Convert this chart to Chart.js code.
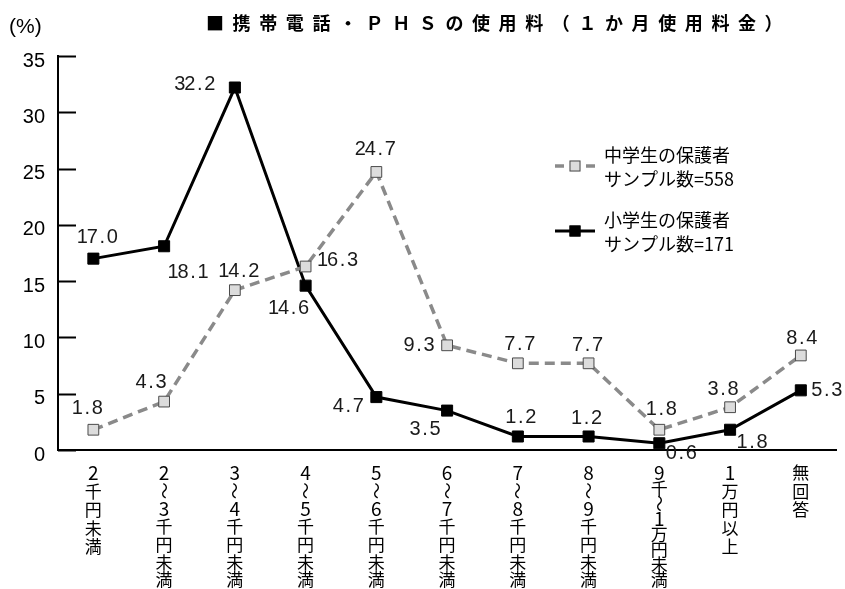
<!DOCTYPE html>
<html>
<head>
<meta charset="utf-8">
<script src="https://cdn.jsdelivr.net/npm/chart.js@4/dist/chart.umd.min.js"></script>
<style>
  html, body { margin: 0; padding: 0; background: #fff; }
  #wrap { width: 845px; height: 589px; }
</style>
</head>
<body>
<div id="wrap"><canvas id="c" width="845" height="589"></canvas></div>
<script>
// Monthly mobile phone / PHS charges, share of respondents (%)
const categories = [
  '2千円未満', '2～3千円未満', '3～4千円未満', '4～5千円未満', '5～6千円未満',
  '6～7千円未満', '7～8千円未満', '8～9千円未満', '9千～1万円未満', '1万円以上', '無回答'
];
const juniorHighParents = [1.8, 4.3, 14.2, 16.3, 24.7, 9.3, 7.7, 7.7, 1.8, 3.8, 8.4];
const elementaryParents = [17.0, 18.1, 32.2, 14.6, 4.7, 3.5, 1.2, 1.2, 0.6, 1.8, 5.3];
const juniorHighLegend = ['中学生の保護者', 'サンプル数=558'];
const elementaryLegend = ['小学生の保護者', 'サンプル数=171'];
const yMin = 0, yMax = 35, yStep = 5;
const chartTitle = '■携帯電話・ＰＨＳの使用料（１か月使用料金）';
const unitLabel = '(%)';

// Where each value label sits relative to its point (dx, dy)
const juniorLabelShift = [[-6,-21],[-13,-19],[4,-19],[32,-6],[-1,-22],[-28,0],[2,-19],[-1,-18],[2,-20],[-7,-18],[1,-17]];
const elementaryLabelShift = [[4,-21],[24,26],[-40,-3],[-17,23],[-28,9],[-22,19],[3,-19],[-2,-18],[22,10],[22,13],[26,0]];

const NUM_FONT = "'Liberation Sans Narrow', 'Liberation Sans', sans-serif";
const JP_FONT = "'Noto Sans CJK JP', sans-serif";

// Value labels: each glyph in a fixed-width cell, like a half-width Gothic face
const valueLabels = {
  id: 'valueLabels',
  afterDatasetsDraw(chart) {
    const ctx = chart.ctx;
    const shifts = [juniorLabelShift, elementaryLabelShift];
    ctx.save();
    ctx.fillStyle = '#1a1a1a';
    ctx.font = '20px ' + NUM_FONT;
    ctx.textAlign = 'center';
    ctx.textBaseline = 'middle';
    chart.data.datasets.forEach((ds, di) => {
      const meta = chart.getDatasetMeta(di);
      meta.data.forEach((pt, i) => {
        const txt = ds.data[i].toFixed(1);
        const [dx, dy] = shifts[di][i];
        const cell = 10;
        const x0 = pt.x + dx - (txt.length * cell) / 2 + cell / 2;
        for (let k = 0; k < txt.length; k++) {
          ctx.fillText(txt[k], x0 + k * cell, pt.y + dy);
        }
      });
    });
    ctx.restore();
  }
};

// Vertical category labels, one glyph per row; the wave dash is turned upright
const verticalCategoryLabels = {
  id: 'verticalCategoryLabels',
  afterDraw(chart) {
    const ctx = chart.ctx;
    const xs = chart.scales.x;
    const top = chart.chartArea.bottom + 23;
    const lastRow = 580;
    ctx.save();
    ctx.fillStyle = '#000';
    ctx.font = '17px ' + JP_FONT;
    ctx.textAlign = 'center';
    ctx.textBaseline = 'middle';
    categories.forEach((lab, i) => {
      const chars = Array.from(lab);
      const step = chars.length > 1 ? Math.min(18.5, (lastRow - top) / (chars.length - 1)) : 0;
      const x = xs.getPixelForValue(i);
      chars.forEach((ch, k) => {
        const y = top + k * step;
        if (ch === '～') {
          ctx.save();
          ctx.translate(x, y);
          ctx.rotate(Math.PI / 2);
          ctx.fillText(ch, 0, 0);
          ctx.restore();
        } else if (/[0-9]/.test(ch)) {
          ctx.save();
          ctx.font = '19px ' + JP_FONT;
          ctx.fillText(ch, x, y);
          ctx.restore();
        } else {
          ctx.fillText(ch, x, y);
        }
      });
    });
    ctx.restore();
  }
};

// Inward tick marks on the value axis
const innerTicks = {
  id: 'innerTicks',
  afterDraw(chart) {
    const ctx = chart.ctx;
    const ys = chart.scales.y;
    const left = chart.chartArea.left;
    ctx.save();
    ctx.strokeStyle = '#000';
    ctx.lineWidth = 2;
    ys.ticks.forEach(t => {
      const y = Math.round(ys.getPixelForValue(t.value)) + 0.5;
      ctx.beginPath();
      ctx.moveTo(left, y);
      ctx.lineTo(left + 18, y);
      ctx.stroke();
    });
    ctx.restore();
  }
};

// Title, unit and the in-plot legend
const headerAndLegend = {
  id: 'headerAndLegend',
  afterDraw(chart) {
    const ctx = chart.ctx;
    ctx.save();
    ctx.fillStyle = '#000';
    ctx.textBaseline = 'middle';

    ctx.font = '21px ' + NUM_FONT;
    ctx.textAlign = 'left';
    ctx.fillText(unitLabel, 9, 27);

    ctx.font = 'bold 18px ' + JP_FONT;
    ctx.textAlign = 'center';
    Array.from(chartTitle).forEach((ch, i) => {
      ctx.fillText(ch, 215 + i * 26.6, 23);
    });

    const entries = [
      { ds: chart.data.datasets[0], lines: juniorHighLegend, y: 166, dashed: true },
      { ds: chart.data.datasets[1], lines: elementaryLegend, y: 231, dashed: false }
    ];
    entries.forEach(e => {
      ctx.strokeStyle = e.ds.borderColor;
      ctx.lineWidth = e.ds.borderWidth;
      ctx.beginPath();
      if (e.dashed) {
        ctx.moveTo(555, e.y); ctx.lineTo(564, e.y);
        ctx.moveTo(586, e.y); ctx.lineTo(595, e.y);
      } else {
        ctx.moveTo(555, e.y); ctx.lineTo(595, e.y);
      }
      ctx.stroke();
      const s = 11;
      ctx.fillStyle = e.ds.pointBackgroundColor;
      ctx.fillRect(575 - s / 2, e.y - s / 2, s, s);
      ctx.strokeStyle = e.ds.pointBorderColor;
      ctx.lineWidth = 1;
      ctx.strokeRect(575 - s / 2 + 0.5, e.y - s / 2 + 0.5, s - 1, s - 1);
      ctx.fillStyle = '#000';
      ctx.font = '18px ' + JP_FONT;
      ctx.textAlign = 'left';
      ctx.fillText(e.lines[0], 604, e.y - 11);
      ctx.fillText(e.lines[1], 604, e.y + 13);
    });
    ctx.restore();
  }
};

new Chart(document.getElementById('c'), {
  type: 'line',
  data: {
    labels: categories,
    datasets: [
      {
        label: juniorHighLegend.join(' '),
        data: juniorHighParents,
        borderColor: '#8a8a8a',
        borderWidth: 3.5,
        borderDash: [10, 6],
        tension: 0,
        pointStyle: 'rect',
        pointRadius: 7.6,
        pointBackgroundColor: '#dcdcdc',
        pointBorderColor: '#4a4a4a',
        pointBorderWidth: 1
      },
      {
        label: elementaryLegend.join(' '),
        data: elementaryParents,
        borderColor: '#000000',
        borderWidth: 3,
        tension: 0,
        pointStyle: 'rect',
        pointRadius: 7.8,
        pointBackgroundColor: '#000000',
        pointBorderColor: '#000000',
        pointBorderWidth: 1
      }
    ]
  },
  options: {
    responsive: false,
    animation: false,
    devicePixelRatio: 1,
    layout: { padding: { top: 56, right: 8, left: 0, bottom: 0 } },
    plugins: {
      legend: { display: false },
      title: { display: false },
      tooltip: { enabled: false }
    },
    scales: {
      x: {
        type: 'category',
        offset: true,
        grid: { display: false, drawTicks: false },
        border: { display: true, color: '#000', width: 2 },
        ticks: { display: false },
        afterFit(scale) { scale.height = 139; }
      },
      y: {
        min: yMin,
        max: yMax,
        grid: { display: false, drawTicks: false },
        border: { display: true, color: '#000', width: 2 },
        ticks: {
          stepSize: yStep,
          padding: 13,
          labelOffset: 5,
          color: '#000',
          font: { family: NUM_FONT, size: 20 }
        },
        afterFit(scale) { scale.width = 58; }
      }
    }
  },
  plugins: [innerTicks, valueLabels, verticalCategoryLabels, headerAndLegend]
});
</script>
</body>
</html>
